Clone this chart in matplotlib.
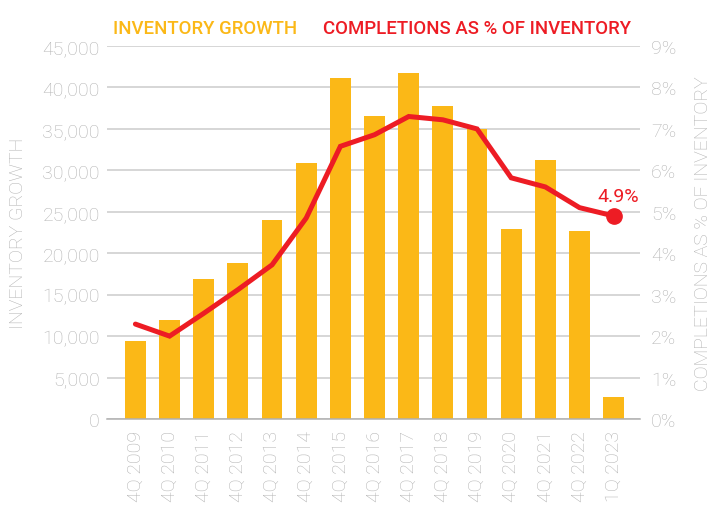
import matplotlib
matplotlib.use("Agg")
import matplotlib.pyplot as plt
from matplotlib import font_manager
from matplotlib.ticker import FuncFormatter

# Data
periods = ["4Q 2009", "4Q 2010", "4Q 2011", "4Q 2012", "4Q 2013", "4Q 2014", "4Q 2015",
           "4Q 2016", "4Q 2017", "4Q 2018", "4Q 2019", "4Q 2020", "4Q 2021", "4Q 2022", "1Q 2023"]
inventory_growth = [9400, 11900, 16900, 18800, 24000, 30900, 41100,
                    36600, 41800, 37800, 35000, 22900, 31300, 22700, 2600]
completions_pct = [2.29, 2.0, 2.55, 3.12, 3.72, 4.85, 6.58,
                   6.86, 7.3, 7.22, 7.0, 5.82, 5.6, 5.1, 4.9]

ORANGE = "#FBB817"
RED = "#ED1C24"
GREY = "#b3b3b3"

names = {f.name for f in font_manager.fontManager.ttflist}
light_font = "Roboto" if "Roboto" in names else "DejaVu Sans"

plt.rcParams["font.family"] = [light_font, "DejaVu Sans"]


def main():
    fig = plt.figure(figsize=(7.23, 5.06), dpi=100)
    ax = fig.add_axes([0.1476, 0.17, 0.7376, 0.737])
    x = list(range(len(periods)))

    ax.bar(x, inventory_growth, width=0.61, color=ORANGE, zorder=2)
    ax.set_ylim(0, 45000)
    ax.set_yticks(range(0, 45001, 5000))
    ax.yaxis.set_major_formatter(FuncFormatter(lambda v, p: f"{int(v):,}"))
    ax.set_xlim(-0.84, 14.77)
    ax.set_xticks(x)
    ax.set_xticklabels(periods, rotation=90)
    ax.grid(axis="y", color="#cccccc", linewidth=1.1, zorder=0)
    ax.set_axisbelow(True)
    for s in ["top", "left", "right"]:
        ax.spines[s].set_visible(False)
    ax.spines["bottom"].set_color("#b0b0b0")
    ax.spines["bottom"].set_linewidth(1.1)
    ax.tick_params(axis="y", length=0, pad=5, labelsize=14, labelcolor=GREY)
    ax.tick_params(axis="x", length=0, pad=8, labelsize=14, labelcolor=GREY)
    for lab in ax.get_xticklabels() + ax.get_yticklabels():
        lab.set_fontweight("light")
    ax.set_ylabel("INVENTORY GROWTH", fontsize=14, color=GREY, fontweight="light")
    ax.yaxis.set_label_coords(-0.149, 0.5)

    ax2 = ax.twinx()
    ax2.plot(x, completions_pct, color=RED, linewidth=3.6, solid_capstyle="round",
             solid_joinstyle="miter", zorder=3)
    ax2.plot(x[-1], completions_pct[-1], "o", color=RED, markersize=11, zorder=4)
    ax2.annotate(f"{completions_pct[-1]:.1f}%", (x[-1], completions_pct[-1]),
                 xytext=(3, 8), textcoords="offset points", ha="center", va="bottom",
                 color=RED, fontsize=14)
    ax2.set_ylim(0, 9)
    ax2.set_yticks(range(0, 10))
    ax2.yaxis.set_major_formatter(FuncFormatter(lambda v, p: f"{int(v)}%"))
    for s in ["top", "left", "right", "bottom"]:
        ax2.spines[s].set_visible(False)
    ax2.tick_params(axis="y", length=0, pad=8, labelsize=14, labelcolor=GREY)
    for lab in ax2.get_yticklabels():
        lab.set_fontweight("light")
    ax2.set_ylabel("COMPLETIONS AS % OF INVENTORY", fontsize=14, color=GREY,
                   fontweight="light", rotation=90)
    ax2.yaxis.set_label_coords(1.101, 0.5)

    # header legend
    fig.text(113 / 723, 1 - 29 / 506, "INVENTORY GROWTH", color=ORANGE, fontsize=13.4,
             fontweight="medium", va="center")
    fig.text(323 / 723, 1 - 29 / 506, "COMPLETIONS AS % OF INVENTORY", color=RED, fontsize=13.4,
             fontweight="medium", va="center")

    fig.savefig("out.png", dpi=100)


if __name__ == "__main__":
    main()
